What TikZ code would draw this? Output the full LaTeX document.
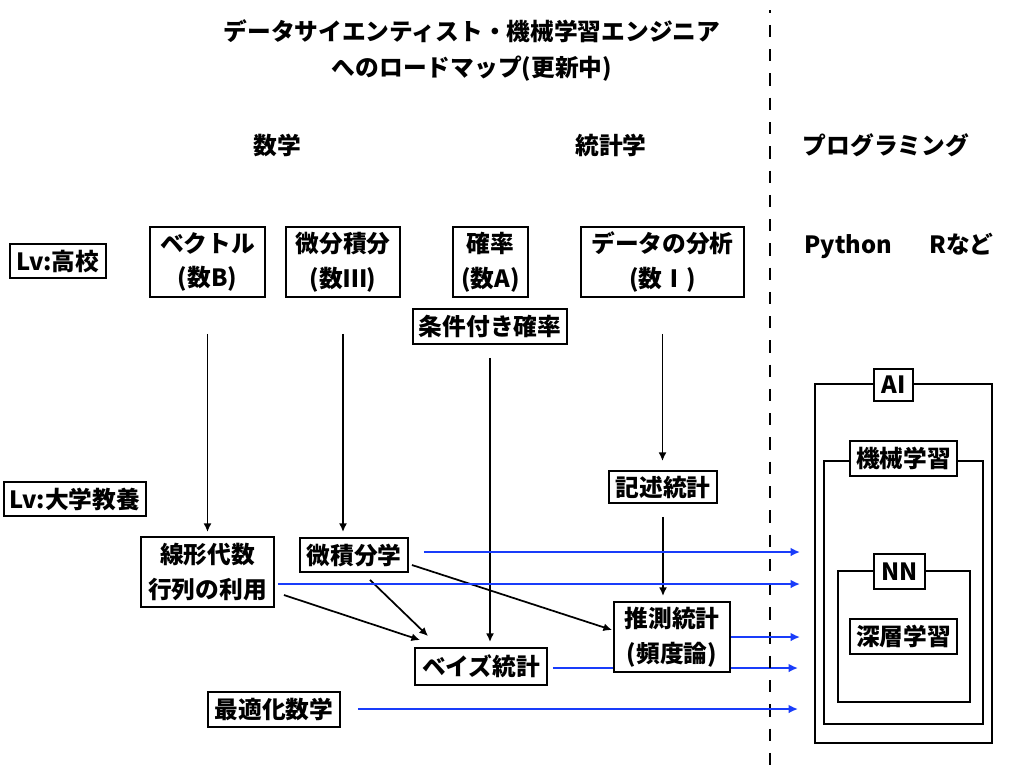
\documentclass[tikz,border=0pt]{standalone}
\usepackage{fontspec}
\setmainfont{Noto Sans CJK JP}
\usetikzlibrary{arrows.meta,backgrounds}
\definecolor{myblue}{RGB}{25,60,250}
\begin{document}
\begin{tikzpicture}[x=0.75pt,y=-0.75pt,
  every node/.style={font=\bfseries\fontsize{17.8}{26}\selectfont, inner sep=0pt, align=center},
  box/.style={draw, line width=1.4pt, fill=white},
  sz/.style 2 args={minimum width=#1*0.75pt, minimum height=#2*0.75pt},
  blk/.style={line width=1.3pt, -{Latex[length=6.5pt,width=6pt]}},
  blu/.style={draw=myblue, line width=1.8pt, -{Latex[length=7pt,width=6.5pt]}},
  sep/.style={line width=1.5pt, dash pattern=on 9.2pt off 9pt, dash phase=7pt},
]
\useasboundingbox (0,0) rectangle (1024,768);

% titles
\node (t1) at (472,31) {データサイエンティスト・機械学習エンジニア};
\node (t2) at (472,69) {へのロードマップ(更新中)};
\node (h1) at (277,145) {数学};
\node (h2) at (611,145) {統計学};
\node (h3) at (886,145) {プログラミング};

% separator
\coordinate (s1) at (770,10);
\coordinate (s2) at (770,768);
\draw[sep] (s1) -- (s2);

% high school level
\node[box,sz={96}{34}] (lv1) at (58,261) {Lv:高校};
\node[box,sz={115}{70}] (vec) at (207.5,262) {ベクトル\\(数B)};
\node[box,sz={114}{70}] (bibun) at (343,262) {微分積分\\(数Ⅲ)};
\node[box,sz={75}{70}] (kaku) at (490.5,262) {確率\\(数A)};
\node[box,sz={163}{70}] (data) at (662.5,262) {データの分析\\(数Ⅰ)};
\node[box,sz={154}{35}] (joken) at (490,326.5) {条件付き確率};
\node (py) at (899,246) {Python\hspace{28pt}Rなど};

% university level
\node[box,sz={142}{34}] (lv2) at (75,499) {Lv:大学教養};
\node[box,sz={133}{70}] (senkei) at (207.5,572) {線形代数\\行列の利用};
\node[box,sz={108}{34}] (bsk) at (354,555) {微積分学};
\node[box,sz={108}{32}] (kij) at (663,487) {記述統計};
\node[box,sz={116}{70}] (sui) at (672,637) {推測統計\\(頻度論)};
\node[box,sz={132}{37}] (bayes) at (481,666.5) {ベイズ統計};
\node[box,sz={132}{35}] (opt) at (274,709.5) {最適化数学};

% AI frames
\node[draw,line width=1.4pt,sz={177}{359}] (aiF) at (903.5,563.5) {};
\node[draw,line width=1.4pt,sz={159}{263}] (mlF) at (903.5,592.5) {};
\node[draw,line width=1.4pt,sz={132}{131}] (nnF) at (904,636.5) {};
\node[box,sz={39}{32}] (aiL) at (893.5,385) {AI};
\node[box,sz={107}{35}] (mlL) at (903.5,458.5) {機械学習};
\node[box,sz={51}{35}] (nnL) at (899.5,571.5) {NN};
\node[box,sz={107}{35}] (deep) at (903.5,636.5) {深層学習};

% black arrows
\draw[blk, shorten <=27pt, shorten >=3pt] (vec.south) -- (vec.south |- senkei.north);
\draw[blk, shorten <=27pt, shorten >=3.75pt] (bibun.south) -- (bibun.south |- bsk.north);
\draw[blk, shorten <=9.75pt, shorten >=3.75pt] (joken.south) -- (joken.south |- bayes.north);
\draw[blk, shorten <=27pt, shorten >=6.75pt] (data.south) -- (data.south |- kij.north);
\draw[blk, shorten <=9.75pt, shorten >=3.75pt] (kij.south) -- (kij.south |- sui.north);
\draw[blk] ([shift={(9,23)}]senkei.east) -- ([shift={(6,-7)}]bayes.north west);
\draw[blk] ([shift={(16,7)}]bsk.south) -- ([shift={(14,-11)}]bayes.north west);
\draw[blk] ([shift={(3,10)}]bsk.east) -- ([shift={(-1,-7)}]sui.west);

% blue arrows
\coordinate (e1) at (800,552);
\coordinate (e2) at (800,584);
\coordinate (e3) at (800,637);
\coordinate (e4) at (798,668);
\coordinate (e5) at (798,709);
\draw[blu] ([shift={(15,-3)}]bsk.east) -- (e1);
\draw[blu] ([shift={(3,12)}]senkei.east) -- (e2);
\draw[blu] (sui.east |- e3) -- (e3);
\begin{pgfonlayer}{background}
\draw[blu] ([xshift=3.75pt]bayes.east |- e4) -- (e4);
\end{pgfonlayer}
\draw[blu] ([xshift=12.75pt]opt.east |- e5) -- (e5);
\end{tikzpicture}
\end{document}
